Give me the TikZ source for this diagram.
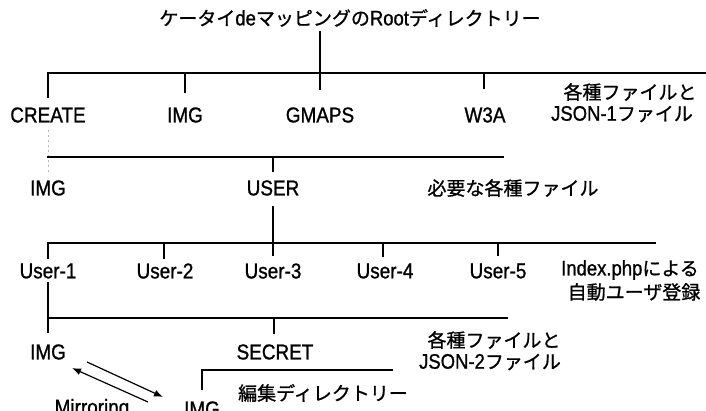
\documentclass[tikz,border=0pt]{standalone}
\usepackage{fontspec}
\setmainfont{Liberation Sans}[FakeStretch=0.88,FakeBold=1]
\newfontfamily\jpfont{Noto Sans CJK JP}[FakeBold=1]
\newfontfamily\latfont{Liberation Sans}[FakeStretch=0.88,FakeBold=1]
\newcommand\LatTxt[1]{{\latfont\fontsize{21}{24}\selectfont #1}}
\usetikzlibrary{arrows.meta}
\tikzset{
  lab/.style={font=\fontsize{21.5}{24}\selectfont, inner sep=0pt},
  jpl/.style={font=\jpfont\fontsize{19}{23}\selectfont, inner sep=0pt, align=center},
  wire/.style={line width=1.2pt, line cap=rect},
  faint/.style={line width=0.5pt, gray!55, dash pattern=on 2pt off 3pt},
  arr/.style={line width=1.2pt, -{Latex[length=9pt,width=7pt]}}
}
\begin{document}
\begin{tikzpicture}[x=1pt,y=-1pt]
\useasboundingbox (0,0) rectangle (706,411);
\clip (0,0) rectangle (706,411);
% title
\node[jpl] (root) at (350,18) {ケータイ\LatTxt{de}マッピングの\LatTxt{Root}ディレクトリー};
% row 1
\node[lab] (create) at (48,115) {CREATE};
\node[lab] (img1) at (185,115) {IMG};
\node[lab] (gmaps) at (320,115) {GMAPS};
\node[lab] (w3a) at (485,115) {W3A};
\node[jpl] (note1a) at (630,92) {各種ファイルと};
\node[jpl] (note1b) at (622,114) {\LatTxt{JSON-1}ファイル};
% row 2
\node[lab] (img2) at (48,188) {IMG};
\node[lab] (user) at (273,188) {USER};
\node[jpl] (note2) at (513,188) {必要な各種ファイル};
% row 3
\node[lab] (u1) at (48,271) {User-1};
\node[lab] (u2) at (165,271) {User-2};
\node[lab] (u3) at (273,271) {User-3};
\node[lab] (u4) at (385,271) {User-4};
\node[lab] (u5) at (498,271) {User-5};
\node[jpl] (note3a) at (630,270) {\LatTxt{Index.php}による};
\node[jpl] (note3b) at (634,292) {自動ユーザ登録};
% row 4
\node[lab] (img3) at (48,352) {IMG};
\node[lab] (secret) at (275,352) {SECRET};
\node[jpl] (note4a) at (494,340) {各種ファイルと};
\node[jpl] (note4b) at (490,362) {\LatTxt{JSON-2}ファイル};
% row 5
\node[jpl] (note5) at (323,393) {編集ディレクトリー};
\node[lab] (img4) at (202,409) {IMG};
\node[lab] (mirr) at (92,409) {Mirroring};
% bus coordinates
\coordinate (bus1) at (0,73);
\coordinate (bus1e) at (706,73);
\coordinate (bus2) at (0,157);
\coordinate (bus2e) at (503,157);
\coordinate (bus3) at (0,243);
\coordinate (bus3e) at (655,243);
\coordinate (bus4) at (0,318);
\coordinate (bus4e) at (507,318);
\coordinate (brk) at (0,370);
\coordinate (brke) at (392,370);
% level 1
\draw[wire] (gmaps.north |- 0,32) -- (gmaps.north |- 0,89);
\draw[wire] (create.north |- bus1) -- (bus1e);
\draw[wire] (create.north |- bus1) -- ++(0,24);
\draw[wire] (img1.north |- bus1) -- ++(0,19);
\draw[wire] (w3a.north |- bus1) ++(-1,0) -- ++(0,15);
% level 2
\draw[faint] (create.south |- 0,130) -- (create.south |- 0,172);
\draw[wire] (img2.north |- bus2) -- (bus2e);
\draw[wire] (user.north |- bus2) -- ++(0,14);
% level 3
\draw[wire] (user.south |- 0,207) -- (user.south |- 0,255);
\draw[wire] (u1.north |- bus3) -- (bus3e);
\draw[wire] (u1.north |- bus3) -- ++(0,15);
\draw[wire] (u2.north |- bus3) ++(-1,0) -- ++(0,15);
\draw[wire] (u4.north |- bus3) ++(-2,0) -- ++(0,13);
\draw[wire] (u5.north |- bus3) -- ++(0,12);
% level 4
\draw[wire] (u1.south |- 0,283) -- (u1.south |- 0,332);
\draw[wire] (img3.north |- bus4) -- (bus4e);
\draw[wire] (secret.north |- bus4) ++(-1,0) -- ++(0,15);
% level 5 bracket
\draw[wire] (img4.north |- 0,389) -- (img4.north |- brk) -- (brke);
% mirroring arrows
\draw[arr] (87,362) -- (163,397);
\draw[arr] (148,402) -- (72,368);
\end{tikzpicture}
\end{document}
